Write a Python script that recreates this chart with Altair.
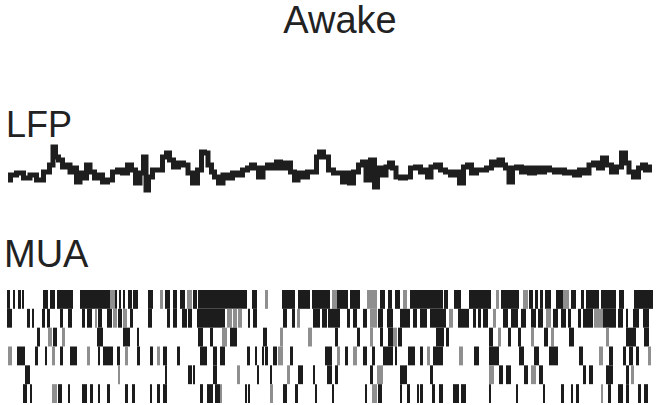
import altair as alt
import pandas as pd

# ---------------- LFP trace (time in samples, amplitude in arbitrary units) ----
lfp_t = [8, 13, 20, 27, 33, 40, 47, 52, 54, 57, 60, 65, 68, 72, 75, 78, 82, 85, 88, 92,
         97, 100, 105, 110, 115, 120, 125, 130, 133, 138, 142, 145, 147, 150, 155, 160,
         165, 168, 171, 176, 181, 186, 190, 195, 200, 203, 206, 210, 213, 216, 221, 225,
         230, 235, 240, 245, 250, 253, 256, 261, 265, 270, 275, 278, 283, 288, 293, 296,
         300, 305, 310, 315, 318, 321, 326, 331, 336, 341, 344, 348, 351, 356, 361, 364,
         368, 373, 376, 379, 384, 388, 391, 394, 398, 403, 408, 413, 418, 423, 426, 429,
         433, 438, 443, 448, 453, 458, 461, 466, 469, 474, 479, 484, 489, 494, 497, 501,
         504, 507, 511, 514, 519, 524, 527, 532, 537, 542, 547, 552, 557, 562, 567, 572,
         577, 582, 587, 591, 596, 601, 604, 609, 614, 619, 624, 627, 631, 636, 641, 644,
         647, 652]
lfp_v = [-5, 0, 2, -3, 0, -5, 3, 10, 28, 18, 15, 8, 10, 3, 7, -7, 2, -3, 10, 3,
         -3, 0, -7, -5, 3, 5, 2, 10, 5, -8, 2, 18, -15, -2, 5, 5,
         18, 22, 15, 8, 12, 10, 2, -8, 5, 23, 22, 10, 3, -2, -8, 0,
         -3, 2, 0, 5, 7, 10, 7, -2, 7, 10, 7, 13, 7, 12, 3, -5,
         2, -2, 3, 3, 18, 23, 18, 5, 2, 2, -7, 2, -8, 3, 10, 13,
         -5, 15, -12, 7, 0, 8, 12, 7, -2, -3, -2, 7, 8, 3, 5, -2,
         8, 10, 5, 3, 0, 3, -8, 8, 10, 2, 5, 5, 7, 13, 10, 15,
         10, 7, -7, 7, 8, 3, 7, 2, 7, 3, 7, 5, 3, 5, 2, 3,
         0, 5, 2, 10, 12, 7, 17, 10, 3, 8, 22, 12, 3, -2, 7, 10,
         5, 8]

# ---------------- MUA raster: (start, end) of spike bars per channel ----------
ch1_black = [(7, 10), (13, 15), (18, 21), (22, 24), (43, 48), (50, 55), (57, 73), (80, 110),
             (115, 117), (119, 121), (123, 125), (128, 132), (133, 138), (148, 153),
             (165, 170), (173, 177), (180, 185), (193, 197), (198, 247), (252, 257),
             (282, 295), (298, 310), (312, 330), (337, 348), (350, 360), (380, 385),
             (388, 392), (395, 400), (410, 443), (444, 448), (454, 461), (469, 491),
             (501, 519), (529, 533), (535, 538), (540, 543), (545, 551), (556, 563),
             (571, 576), (581, 584), (586, 599), (601, 616), (619, 624), (634, 653)]
ch1_gray = [(110, 115), (160, 163), (187, 192), (265, 268), (332, 337), (367, 377),
            (403, 407), (496, 499), (523, 528), (563, 569)]

ch2_black = [(7, 12), (27, 30), (32, 34), (42, 45), (47, 50), (60, 63), (68, 72), (82, 85),
             (87, 92), (98, 102), (107, 112), (118, 122), (130, 133), (148, 152),
             (167, 170), (173, 177), (182, 187), (188, 192), (197, 225), (248, 250),
             (253, 257), (283, 287), (292, 295), (313, 320), (322, 327), (328, 340),
             (347, 350), (353, 357), (363, 367), (378, 383), (387, 393), (400, 410),
             (413, 417), (420, 427), (430, 446), (458, 469), (473, 476), (478, 481),
             (483, 488), (503, 508), (511, 518), (521, 526), (531, 536), (538, 543),
             (553, 558), (561, 566), (568, 571), (578, 581), (583, 593), (603, 616),
             (618, 623), (626, 628), (633, 639), (643, 649)]
ch2_gray = [(95, 97), (113, 117), (123, 127), (227, 232), (233, 237), (238, 242),
            (297, 300), (370, 377), (449, 453), (493, 496), (546, 551), (594, 603)]

ch3_black = [(37, 40), (53, 57), (97, 103), (123, 130), (137, 139), (198, 203), (210, 213),
             (230, 237), (263, 267), (335, 338), (357, 360), (380, 383), (388, 393),
             (398, 402), (436, 444), (446, 449), (489, 493), (508, 511), (518, 521),
             (544, 548), (569, 574), (626, 636), (644, 649)]
ch3_gray = [(48, 52), (62, 65), (222, 227), (280, 283), (308, 312), (370, 373),
            (393, 397), (498, 501), (531, 534), (551, 554), (606, 609)]

ch4_black = [(17, 25), (35, 38), (45, 47), (60, 63), (70, 77), (98, 100), (103, 113),
             (117, 120), (137, 140), (150, 153), (163, 167), (177, 180), (200, 207),
             (213, 217), (220, 225), (247, 250), (255, 257), (262, 264), (265, 268),
             (273, 277), (290, 293), (325, 332), (345, 348), (363, 367), (372, 375),
             (383, 393), (395, 397), (408, 415), (420, 423), (433, 443), (474, 479),
             (489, 499), (519, 524), (534, 539), (549, 558), (579, 583), (609, 613),
             (623, 626), (629, 633), (636, 639)]
ch4_gray = [(8, 12), (52, 55), (87, 90), (125, 128), (157, 160), (278, 283), (337, 340),
            (353, 357), (427, 430), (459, 463), (599, 603), (648, 651)]

ch5_black = [(25, 30), (165, 167), (188, 192), (193, 195), (213, 217), (257, 259),
             (270, 272), (298, 303), (313, 315), (327, 332), (335, 338), (370, 373),
             (400, 407), (430, 433), (499, 503), (506, 511), (524, 528), (539, 543),
             (583, 586), (589, 593), (606, 613), (626, 629)]
ch5_gray = [(118, 120), (237, 240), (287, 290), (377, 383), (489, 494), (531, 536),
            (631, 634)]

ch6_black = [(23, 27), (30, 32), (58, 62), (68, 70), (82, 87), (90, 93), (98, 100),
             (107, 110), (125, 128), (132, 135), (150, 152), (157, 160), (163, 167),
             (200, 203), (207, 213), (215, 220), (245, 247), (248, 250), (283, 287),
             (295, 298), (315, 317), (332, 334), (365, 367), (378, 382), (400, 402),
             (407, 410), (417, 419), (420, 423), (432, 435), (439, 443), (453, 459),
             (461, 466), (489, 491), (516, 518), (543, 545), (561, 564), (571, 573),
             (576, 579), (608, 611), (618, 623), (626, 629), (638, 641), (644, 648)]
ch6_gray = [(52, 57), (220, 222), (270, 273), (372, 377), (601, 603)]

title_text = "Awake"
lfp_label = "LFP"
mua_label = "MUA"

# ---------------- build tables ----------------
lfp_df = pd.DataFrame({"t": lfp_t, "v": lfp_v})

rows = []
channels = [(1, ch1_black, ch1_gray), (2, ch2_black, ch2_gray), (3, ch3_black, ch3_gray),
            (4, ch4_black, ch4_gray), (5, ch5_black, ch5_gray), (6, ch6_black, ch6_gray)]
for ch, blk, gry in channels:
    for s, e in gry:
        rows.append({"ch": ch, "start": s, "end": e, "shade": "gray"})
    for s, e in blk:
        rows.append({"ch": ch, "start": s, "end": e, "shade": "black"})
mua_df = pd.DataFrame(rows)

xscale = alt.Scale(domain=[0, 656], range=[0, 656], nice=False, zero=False)

lfp = alt.Chart(lfp_df).mark_line(
    color="#1e1e1e", strokeWidth=5, interpolate="step", strokeJoin="miter"
).encode(
    x=alt.X("t:Q", scale=xscale, axis=None),
    y=alt.Y("v:Q", scale=alt.Scale(domain=[-30, 30], range=[205, 145], nice=False, zero=False), axis=None),
)

mua = alt.Chart(mua_df).transform_calculate(
    top="datum.ch - 0.5", bot="datum.ch + 0.5"
).mark_rect(strokeWidth=0).encode(
    x=alt.X("start:Q", scale=xscale, axis=None),
    x2="end:Q",
    y=alt.Y("top:Q", scale=alt.Scale(domain=[0.5, 6.5], range=[290, 403], nice=False, zero=False), axis=None),
    y2="bot:Q",
    color=alt.Color("shade:N", scale=alt.Scale(domain=["black", "gray"], range=["#1c1c1c", "#8f8f8f"]), legend=None),
)

def label(txt, x, y, size, align):
    return alt.Chart(pd.DataFrame({"txt": [txt]})).mark_text(
        font="Liberation Sans", fontSize=size, align=align, baseline="alphabetic", color="#222222"
    ).encode(text="txt:N", x=alt.value(x), y=alt.value(y))

chart = alt.layer(
    mua, lfp,
    label(title_text, 340, 33, 38, "center"),
    label(lfp_label, 6, 137, 36, "left"),
    label(mua_label, 4, 267, 38, "left"),
).resolve_scale(y="independent", color="independent").properties(
    width=656, height=405, padding=0, autosize=alt.AutoSizeParams(type="none"),
    background="white",
).configure_view(stroke=None)

chart.save("out.html", embed_options={"renderer": "svg", "actions": False})
